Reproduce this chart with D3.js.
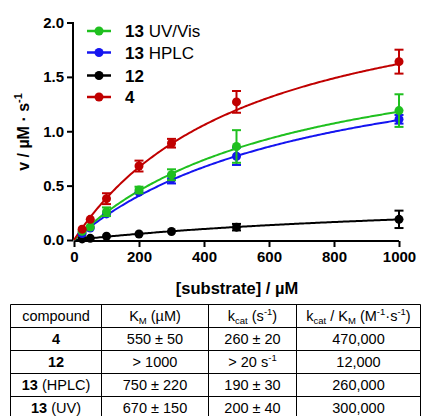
<!DOCTYPE html>
<html><head><meta charset="utf-8">
<script src="https://cdn.jsdelivr.net/npm/d3@7"></script>
<style>
body{margin:0;background:#fff;}
svg{display:block;font-family:"Liberation Sans",Arial,sans-serif;}
</style></head>
<body><svg id="c" width="421" height="416"></svg>
<script>
// ---- data ----
const substrate = [25, 50, 100, 200, 300, 500, 1000];
const seriesNames = ["13 UV/Vis", "13 HPLC", "12", "4"];
const seriesColors = ["#1fc01f", "#1515f0", "#000000", "#c00000"];
const vUV   = [0.08, 0.12, 0.26, 0.46, 0.60, 0.86, 1.19];
const eUV   = [0.01, 0.01, 0.04, 0.03, 0.05, 0.15, 0.15];
const vHPLC = [0.06, 0.11, 0.24, 0.44, 0.56, 0.77, 1.11];
const eHPLC = [0.01, 0.01, 0.02, 0.02, 0.04, 0.08, 0.04];
const v12   = [0.01, 0.015, 0.035, 0.055, 0.078, 0.118, 0.19];
const e12   = [0.005, 0.005, 0.005, 0.01, 0.01, 0.03, 0.08];
const v4    = [0.10, 0.19, 0.38, 0.68, 0.89, 1.27, 1.64];
const e4    = [0.01, 0.02, 0.05, 0.05, 0.04, 0.10, 0.11];
// Michaelis-Menten fit parameters (Vmax in µM/s, KM in µM)
const fitVmax = [1.97, 1.93, 0.45, 2.51];
const fitKm   = [670, 750, 1380, 550];
const xTicks = [0, 200, 400, 600, 800, 1000];
const yTicks = [0.0, 0.5, 1.0, 1.5, 2.0];
// table
const tableHeader = ["compound", "K<sub>M</sub> (µM)", "k<sub>cat</sub> (s<sup>-1</sup>)", "k<sub>cat</sub> / K<sub>M</sub> (M<sup>-1</sup>·s<sup>-1</sup>)"];
const tableCompounds = [["4",""], ["12",""], ["13"," (HPLC)"], ["13"," (UV)"]];
const tableKm = ["550 ± 50", "> 1000", "750 ± 220", "670 ± 150"];
const tableKcat = ["260 ± 20", "> 20 s<sup>-1</sup>", "190 ± 30", "200 ± 40"];
const tableEff = ["470,000", "12,000", "260,000", "300,000"];

const values = [vUV, vHPLC, v12, v4];
const errors = [eUV, eHPLC, e12, e4];

const svg = d3.select("#c");
const x = d3.scaleLinear().domain([0, 1000]).range([74, 399]);
const y = d3.scaleLinear().domain([0, 2]).range([240, 22.5]);

// axes
const xAxis = svg.append("g").attr("transform", "translate(0,241)")
  .call(d3.axisBottom(x).tickValues(xTicks).tickSize(6).tickPadding(4).tickFormat(d3.format("d")));
const yAxis = svg.append("g").attr("transform", "translate(73,0)")
  .call(d3.axisLeft(y).tickValues(yTicks).tickSize(6).tickPadding(3).tickFormat(d3.format(".1f")));
[xAxis, yAxis].forEach(a => {
  a.select(".domain").attr("stroke", "#000").attr("stroke-width", 2);
  a.selectAll(".tick line").attr("stroke", "#000").attr("stroke-width", 2);
  a.selectAll(".tick text").attr("fill", "#000").style("font-size", "15px").style("font-weight", "bold")
    .style("font-family", '"Liberation Sans",Arial,sans-serif');
});
xAxis.select(".domain").attr("d", "M74,0V0H399V0");
xAxis.selectAll(".tick line").attr("y1", 0);
yAxis.select(".domain").attr("d", "M0,240.5V22");

// axis titles
svg.append("text").attr("x", 237).attr("y", 294).attr("text-anchor", "middle")
  .style("font-size", "16.5px").style("font-weight", "bold").text("[substrate] / µM");
const yl = svg.append("text").attr("transform", "translate(29,132) rotate(-90)").attr("text-anchor", "middle")
  .style("font-size", "16px").style("font-weight", "bold");
yl.append("tspan").text("v / µM · s");
yl.append("tspan").attr("dy", -7).style("font-size", "11px").text("-1");

// fit curves
const xs = d3.range(0, 1001, 5);
const line = d3.line().x(d => x(d[0])).y(d => y(d[1]));
// draw order: black, blue, green, red (red on top)
const order = [2, 1, 0, 3];
order.forEach(i => {
  const pts = xs.map(s => [s, fitVmax[i] * s / (fitKm[i] + s)]);
  svg.append("path").attr("d", line(pts)).attr("fill", "none")
    .attr("stroke", seriesColors[i]).attr("stroke-width", 2);
});
order.forEach(i => {
  const g = svg.append("g").attr("stroke", seriesColors[i]).attr("fill", seriesColors[i]);
  substrate.forEach((s, j) => {
    const v = values[i][j], e = errors[i][j];
    const cx = x(s), y1 = y(v + e), y2 = y(v - e);
    if (y2 - y1 > 5) {
      g.append("line").attr("x1", cx).attr("x2", cx).attr("y1", y1).attr("y2", y2).attr("stroke-width", 2);
      g.append("line").attr("x1", cx - 4.5).attr("x2", cx + 4.5).attr("y1", y1).attr("y2", y1).attr("stroke-width", 2);
      g.append("line").attr("x1", cx - 4.5).attr("x2", cx + 4.5).attr("y1", y2).attr("y2", y2).attr("stroke-width", 2);
    }
    g.append("circle").attr("cx", cx).attr("cy", y(v)).attr("r", 4.5).attr("stroke", "none");
  });
});

// legend
const legY = [31, 52.5, 75.5, 97];
seriesNames.forEach((n, i) => {
  const g = svg.append("g");
  g.append("line").attr("x1", 87).attr("x2", 111).attr("y1", legY[i]).attr("y2", legY[i])
    .attr("stroke", seriesColors[i]).attr("stroke-width", 2.5);
  g.append("circle").attr("cx", 99).attr("cy", legY[i]).attr("r", 4.5).attr("fill", seriesColors[i]);
  const parts = n.split(" ");
  const t = g.append("text").attr("x", 125).attr("y", legY[i] + 6).style("font-size", "17px");
  t.append("tspan").style("font-weight", "bold").text(parts[0]);
  if (parts.length > 1) t.append("tspan").text(" " + parts.slice(1).join(" "));
});

// table
const colX = [10.5, 101.5, 208.5, 296.5, 420.5];
const rowY = [304.5, 327.5, 350.5, 373.5, 396.5, 419.5];
const tg = svg.append("g");
const cellFont = "14.5px";
const supSub = h => h.replace(/<sub>/g, '<sub style="font-size:9.5px;vertical-align:-3px;line-height:0">')
  .replace(/<sup>/g, '<sup style="font-size:9.5px;vertical-align:6px;line-height:0">');
function cell(ci, ri, html) {
  const fo = tg.append("foreignObject").attr("x", colX[ci]).attr("y", rowY[ri])
    .attr("width", colX[ci + 1] - colX[ci]).attr("height", rowY[ri + 1] - rowY[ri]);
  fo.append("xhtml:div")
    .style("width", "100%").style("height", "100%").style("display", "flex")
    .style("align-items", "center").style("justify-content", "center")
    .style("font-family", '"Liberation Sans",Arial,sans-serif').style("font-size", cellFont)
    .style("line-height", "1").style("white-space", "nowrap").style("color", "#000")
    .html("<span>" + supSub(html) + "</span>");
}
tableHeader.forEach((h, ci) => cell(ci, 0, h));
tableCompounds.forEach((c, ri) => {
  cell(0, ri + 1, "<b>" + c[0] + "</b>" + (c[1] ? " " + c[1].trim() : ""));
  cell(1, ri + 1, tableKm[ri]);
  cell(2, ri + 1, tableKcat[ri]);
  cell(3, ri + 1, tableEff[ri]);
});
// grid lines
rowY.forEach(ry => tg.append("line").attr("x1", colX[0]).attr("x2", colX[4]).attr("y1", ry).attr("y2", ry).attr("stroke", "#000").attr("stroke-width", 1));
colX.forEach(cx => tg.append("line").attr("x1", cx).attr("x2", cx).attr("y1", rowY[0]).attr("y2", rowY[5]).attr("stroke", "#000").attr("stroke-width", 1));
</script>
</body></html>
